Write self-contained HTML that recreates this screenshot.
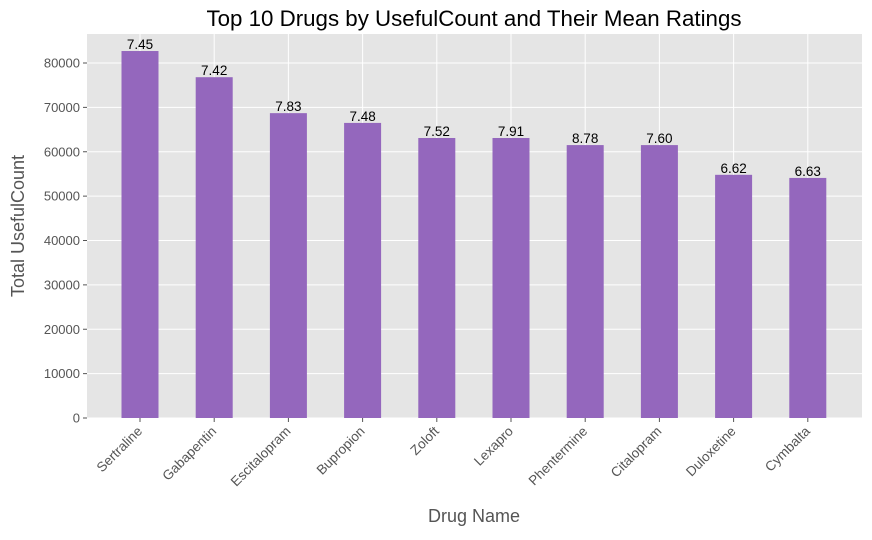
<!DOCTYPE html>
<html><head><meta charset="utf-8"><style>
body{margin:0;background:#fff;font-family:"Liberation Sans","DejaVu Sans",sans-serif;}
</style></head><body>
<svg id="c" width="872" height="535" xmlns="http://www.w3.org/2000/svg"></svg>
<script>
const categories=["Sertraline","Gabapentin","Escitalopram","Bupropion","Zoloft","Lexapro","Phentermine","Citalopram","Duloxetine","Cymbalta"];
const usefulCounts=[82700,76800,68700,66500,63100,63100,61500,61500,54800,54100];
const meanRatings=["7.45","7.42","7.83","7.48","7.52","7.91","8.78","7.60","6.62","6.63"];
const yTicks=[0,10000,20000,30000,40000,50000,60000,70000,80000];
const NS="http://www.w3.org/2000/svg";
const svg=document.getElementById('c');
const L=87,R=862,T=34,B=418;
const y=v=>B-v*(418-63)/80000;
const x=i=>140+i*74.2;
function el(tag,attrs,parent){const e=document.createElementNS(NS,tag);for(const k in attrs)e.setAttribute(k,attrs[k]);(parent||svg).appendChild(e);return e;}
const bg=el('rect',{x:L,y:T,width:R-L,height:B-T,fill:'#e5e5e5'});


yTicks.forEach(v=>{
  const g=el('line',{x1:L,x2:R,y1:y(v),y2:y(v),stroke:'#fff','stroke-width':1});
  
  
  el('line',{x1:L-4,x2:L,y1:y(v),y2:y(v),stroke:'#555'});
  const t=el('text',{x:L-7,y:y(v)+4.5,'text-anchor':'end','font-size':13,fill:'#555'});
  t.textContent=v;
  
  
});
categories.forEach((c,i)=>{
  const g=el('line',{x1:x(i),x2:x(i),y1:T,y2:B,stroke:'#fff','stroke-width':1});
  
  
});
categories.forEach((c,i)=>{
  const b=el('rect',{x:x(i)-18.5,y:y(usefulCounts[i]),width:37,height:B-y(usefulCounts[i]),fill:'#9467bd'});
  
  
  const lb=el('text',{x:x(i),y:y(usefulCounts[i])-2,'text-anchor':'middle','font-size':13.5,fill:'#000'});
  lb.textContent=meanRatings[i];
  
  
  el('line',{x1:x(i),x2:x(i),y1:B,y2:B+4,stroke:'#555'});
  const t=el('text',{x:x(i)+3,y:B+14,'text-anchor':'end','font-size':13.5,fill:'#555',transform:`rotate(-45 ${x(i)+3} ${B+14})`});
  t.textContent=c;
  
  
});
const title=el('text',{x:474,y:26,'text-anchor':'middle','font-size':22.3,fill:'#000'});
title.textContent='Top 10 Drugs by UsefulCount and Their Mean Ratings';


const xt=el('text',{x:474,y:522,'text-anchor':'middle','font-size':18,fill:'#555'});
xt.textContent='Drug Name';


const yt=el('text',{x:24,y:226,'text-anchor':'middle','font-size':18,fill:'#555',transform:'rotate(-90 24 226)'});
yt.textContent='Total UsefulCount';


</script>
</body></html>
